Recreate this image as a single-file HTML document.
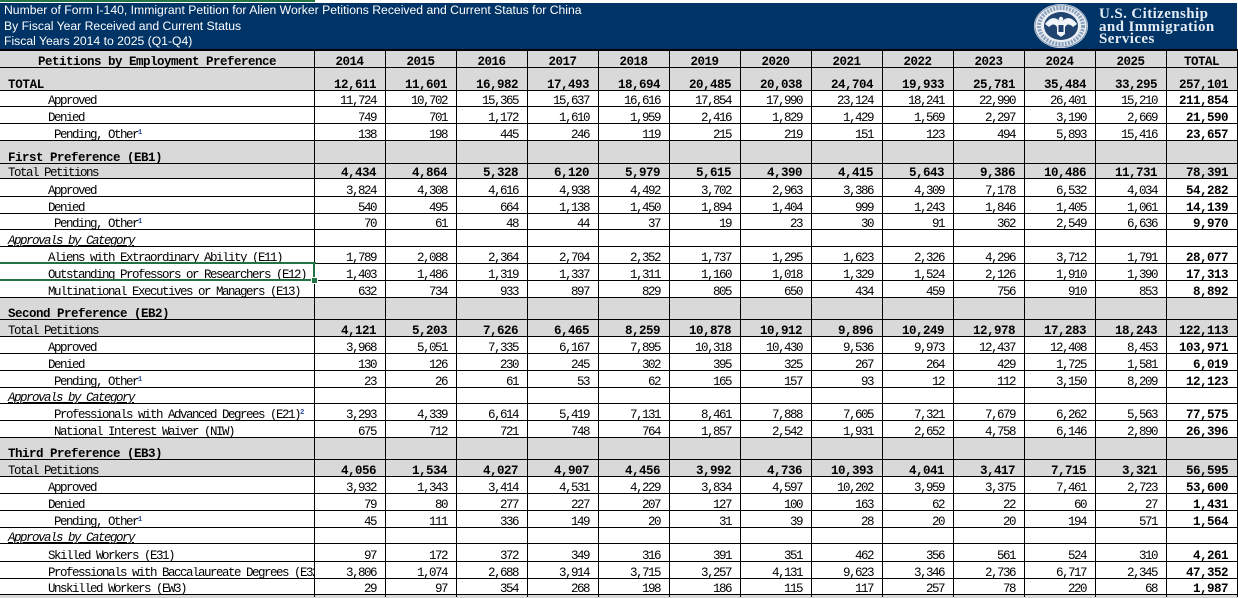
<!DOCTYPE html>
<html>
<head>
<meta charset="utf-8">
<style>
html,body{margin:0;padding:0}
body{width:1238px;height:597px;overflow:hidden;background:#fff;position:relative;font-family:"Liberation Mono",monospace;font-size:12.5px;color:#000}
.topg{position:absolute;left:0;top:0;width:315px;height:2px;background:#217346}
.nav{position:absolute;left:0;top:3px;width:1237px;height:47px;background:#003366}
.tl{position:absolute;left:4px;font-family:"Liberation Sans",sans-serif;font-size:12.2px;line-height:15.5px;color:#fff;white-space:nowrap}
.logo{position:absolute;left:1030px;top:3px}
.lt{position:absolute;left:1099px;font-family:"Liberation Serif",serif;font-weight:bold;font-size:15px;line-height:13px;color:#e3ebf3;letter-spacing:0.4px;white-space:nowrap}
.r{position:absolute;left:0;width:1238px;border-top:1px solid #000;box-sizing:border-box;display:flex;align-items:flex-end;line-height:12px;letter-spacing:-1.5px;white-space:nowrap}
.r > div{position:relative;top:1px}
.g{background:#d9d9d9}
.l{width:314px;flex:none;overflow:hidden;white-space:nowrap;box-sizing:border-box;padding-left:8px}
.c{width:71px;flex:none;text-align:right;padding-right:9px;box-sizing:border-box;white-space:nowrap}
.ctr{text-align:center;padding-right:0}
.b{font-weight:bold;letter-spacing:-0.5px}
.r.b .l{letter-spacing:-0.5px}
.i1{padding-left:48px}
.i2{padding-left:54px}
.it{font-style:italic;text-decoration:underline}
sup{font-size:7px;letter-spacing:0;color:#2348a0;vertical-align:4px;line-height:0;font-weight:bold}
.v{position:absolute;top:50px;height:547px;width:1px;background:#000}
.gr{position:absolute;background:#217346}
</style>
</head>
<body>
<div class="topg"></div>
<div class="nav"></div>
<div class="tl" style="top:3px">Number of Form I-140, Immigrant Petition for Alien Worker Petitions Received and Current Status for China</div>
<div class="tl" style="top:18.5px">By Fiscal Year Received and Current Status</div>
<div class="tl" style="top:34px">Fiscal Years 2014 to 2025 (Q1-Q4)</div>
<svg class="logo" width="64" height="46" viewBox="0 0 64 46">
<ellipse cx="31" cy="23" rx="27" ry="22" fill="#e9eef4"/>
<ellipse cx="31" cy="23" rx="22" ry="18" fill="none" stroke="#8a9fba" stroke-width="4" stroke-dasharray="2 1.2"/>
<ellipse cx="31" cy="23" rx="26" ry="21" fill="none" stroke="#7f97b5" stroke-width="1"/>
<ellipse cx="31" cy="23" rx="17" ry="14" fill="#20446f"/>
<path d="M15 21 Q22 11 30 18 L32 18 Q40 11 47 21 L43 24 Q38 19 35 24 L35 31 L31 34 L27 31 L27 24 Q24 19 19 24 Z" fill="#f2f5f9"/>
<rect x="28.5" y="22" width="5" height="7" fill="#20446f"/>
<circle cx="31" cy="16" r="2.2" fill="#f2f5f9"/>
</svg>
<div class="lt" style="top:8px">U.S. Citizenship</div>
<div class="lt" style="top:21px">and Immigration</div>
<div class="lt" style="top:33px">Services</div>

<div class="r g b" style="top:49px;height:18px;border-top-width:2px"><div class="l" style="padding-left:0;text-align:center">Petitions by Employment Preference</div><div class="c ctr">2014</div><div class="c ctr">2015</div><div class="c ctr">2016</div><div class="c ctr">2017</div><div class="c ctr">2018</div><div class="c ctr">2019</div><div class="c ctr">2020</div><div class="c ctr">2021</div><div class="c ctr">2022</div><div class="c ctr">2023</div><div class="c ctr">2024</div><div class="c ctr">2025</div><div class="c ctr">TOTAL</div></div>

<div class="r g b" style="top:67px;height:23px"><div class="l" style="letter-spacing:-0.3px">TOTAL</div><div class="c">12,611</div><div class="c">11,601</div><div class="c">16,982</div><div class="c">17,493</div><div class="c">18,694</div><div class="c">20,485</div><div class="c">20,038</div><div class="c">24,704</div><div class="c">19,933</div><div class="c">25,781</div><div class="c">35,484</div><div class="c">33,295</div><div class="c">257,101</div></div>

<div class="r" style="top:90px;height:16px"><div class="l i1">Approved</div><div class="c">11,724</div><div class="c">10,702</div><div class="c">15,365</div><div class="c">15,637</div><div class="c">16,616</div><div class="c">17,854</div><div class="c">17,990</div><div class="c">23,124</div><div class="c">18,241</div><div class="c">22,990</div><div class="c">26,401</div><div class="c">15,210</div><div class="c b">211,854</div></div>

<div class="r" style="top:106px;height:17px"><div class="l i1">Denied</div><div class="c">749</div><div class="c">701</div><div class="c">1,172</div><div class="c">1,610</div><div class="c">1,959</div><div class="c">2,416</div><div class="c">1,829</div><div class="c">1,429</div><div class="c">1,569</div><div class="c">2,297</div><div class="c">3,190</div><div class="c">2,669</div><div class="c b">21,590</div></div>

<div class="r" style="top:123px;height:17px"><div class="l i2">Pending, Other<sup>1</sup></div><div class="c">138</div><div class="c">198</div><div class="c">445</div><div class="c">246</div><div class="c">119</div><div class="c">215</div><div class="c">219</div><div class="c">151</div><div class="c">123</div><div class="c">494</div><div class="c">5,893</div><div class="c">15,416</div><div class="c b">23,657</div></div>

<div class="r g" style="top:140px;height:23px"><div class="l b">First Preference (EB1)</div></div>

<div class="r g b" style="top:163px;height:15px"><div class="l" style="font-weight:normal;letter-spacing:-1.5px">Total Petitions</div><div class="c">4,434</div><div class="c">4,864</div><div class="c">5,328</div><div class="c">6,120</div><div class="c">5,979</div><div class="c">5,615</div><div class="c">4,390</div><div class="c">4,415</div><div class="c">5,643</div><div class="c">9,386</div><div class="c">10,486</div><div class="c">11,731</div><div class="c">78,391</div></div>

<div class="r" style="top:178px;height:18px"><div class="l i1">Approved</div><div class="c">3,824</div><div class="c">4,308</div><div class="c">4,616</div><div class="c">4,938</div><div class="c">4,492</div><div class="c">3,702</div><div class="c">2,963</div><div class="c">3,386</div><div class="c">4,309</div><div class="c">7,178</div><div class="c">6,532</div><div class="c">4,034</div><div class="c b">54,282</div></div>

<div class="r" style="top:196px;height:17px"><div class="l i1">Denied</div><div class="c">540</div><div class="c">495</div><div class="c">664</div><div class="c">1,138</div><div class="c">1,450</div><div class="c">1,894</div><div class="c">1,404</div><div class="c">999</div><div class="c">1,243</div><div class="c">1,846</div><div class="c">1,405</div><div class="c">1,061</div><div class="c b">14,139</div></div>

<div class="r" style="top:213px;height:16px"><div class="l i2">Pending, Other<sup>1</sup></div><div class="c">70</div><div class="c">61</div><div class="c">48</div><div class="c">44</div><div class="c">37</div><div class="c">19</div><div class="c">23</div><div class="c">30</div><div class="c">91</div><div class="c">362</div><div class="c">2,549</div><div class="c">6,636</div><div class="c b">9,970</div></div>

<div class="r" style="top:229px;height:17px"><div class="l it">Approvals by Category</div></div>

<div class="r" style="top:246px;height:17px"><div class="l i1">Aliens with Extraordinary Ability (E11)</div><div class="c">1,789</div><div class="c">2,088</div><div class="c">2,364</div><div class="c">2,704</div><div class="c">2,352</div><div class="c">1,737</div><div class="c">1,295</div><div class="c">1,623</div><div class="c">2,326</div><div class="c">4,296</div><div class="c">3,712</div><div class="c">1,791</div><div class="c b">28,077</div></div>

<div class="r" style="top:263px;height:17px"><div class="l i1">Outstanding Professors or Researchers (E12)</div><div class="c">1,403</div><div class="c">1,486</div><div class="c">1,319</div><div class="c">1,337</div><div class="c">1,311</div><div class="c">1,160</div><div class="c">1,018</div><div class="c">1,329</div><div class="c">1,524</div><div class="c">2,126</div><div class="c">1,910</div><div class="c">1,390</div><div class="c b">17,313</div></div>

<div class="r" style="top:280px;height:17px"><div class="l i1">Multinational Executives or Managers (E13)</div><div class="c">632</div><div class="c">734</div><div class="c">933</div><div class="c">897</div><div class="c">829</div><div class="c">805</div><div class="c">650</div><div class="c">434</div><div class="c">459</div><div class="c">756</div><div class="c">910</div><div class="c">853</div><div class="c b">8,892</div></div>

<div class="r g" style="top:297px;height:22px"><div class="l b">Second Preference (EB2)</div></div>

<div class="r g b" style="top:319px;height:17px"><div class="l" style="font-weight:normal;letter-spacing:-1.5px">Total Petitions</div><div class="c">4,121</div><div class="c">5,203</div><div class="c">7,626</div><div class="c">6,465</div><div class="c">8,259</div><div class="c">10,878</div><div class="c">10,912</div><div class="c">9,896</div><div class="c">10,249</div><div class="c">12,978</div><div class="c">17,283</div><div class="c">18,243</div><div class="c">122,113</div></div>

<div class="r" style="top:336px;height:17px"><div class="l i1">Approved</div><div class="c">3,968</div><div class="c">5,051</div><div class="c">7,335</div><div class="c">6,167</div><div class="c">7,895</div><div class="c">10,318</div><div class="c">10,430</div><div class="c">9,536</div><div class="c">9,973</div><div class="c">12,437</div><div class="c">12,408</div><div class="c">8,453</div><div class="c b">103,971</div></div>

<div class="r" style="top:353px;height:17px"><div class="l i1">Denied</div><div class="c">130</div><div class="c">126</div><div class="c">230</div><div class="c">245</div><div class="c">302</div><div class="c">395</div><div class="c">325</div><div class="c">267</div><div class="c">264</div><div class="c">429</div><div class="c">1,725</div><div class="c">1,581</div><div class="c b">6,019</div></div>

<div class="r" style="top:370px;height:17px"><div class="l i2">Pending, Other<sup>1</sup></div><div class="c">23</div><div class="c">26</div><div class="c">61</div><div class="c">53</div><div class="c">62</div><div class="c">165</div><div class="c">157</div><div class="c">93</div><div class="c">12</div><div class="c">112</div><div class="c">3,150</div><div class="c">8,209</div><div class="c b">12,123</div></div>

<div class="r" style="top:387px;height:16px"><div class="l it">Approvals by Category</div></div>

<div class="r" style="top:403px;height:17px"><div class="l i2">Professionals with Advanced Degrees (E21)<sup>2</sup></div><div class="c">3,293</div><div class="c">4,339</div><div class="c">6,614</div><div class="c">5,419</div><div class="c">7,131</div><div class="c">8,461</div><div class="c">7,888</div><div class="c">7,605</div><div class="c">7,321</div><div class="c">7,679</div><div class="c">6,262</div><div class="c">5,563</div><div class="c b">77,575</div></div>

<div class="r" style="top:420px;height:17px"><div class="l i2">National Interest Waiver (NIW)</div><div class="c">675</div><div class="c">712</div><div class="c">721</div><div class="c">748</div><div class="c">764</div><div class="c">1,857</div><div class="c">2,542</div><div class="c">1,931</div><div class="c">2,652</div><div class="c">4,758</div><div class="c">6,146</div><div class="c">2,890</div><div class="c b">26,396</div></div>

<div class="r g" style="top:437px;height:22px"><div class="l b">Third Preference (EB3)</div></div>

<div class="r g b" style="top:459px;height:17px"><div class="l" style="font-weight:normal;letter-spacing:-1.5px">Total Petitions</div><div class="c">4,056</div><div class="c">1,534</div><div class="c">4,027</div><div class="c">4,907</div><div class="c">4,456</div><div class="c">3,992</div><div class="c">4,736</div><div class="c">10,393</div><div class="c">4,041</div><div class="c">3,417</div><div class="c">7,715</div><div class="c">3,321</div><div class="c">56,595</div></div>

<div class="r" style="top:476px;height:17px"><div class="l i1">Approved</div><div class="c">3,932</div><div class="c">1,343</div><div class="c">3,414</div><div class="c">4,531</div><div class="c">4,229</div><div class="c">3,834</div><div class="c">4,597</div><div class="c">10,202</div><div class="c">3,959</div><div class="c">3,375</div><div class="c">7,461</div><div class="c">2,723</div><div class="c b">53,600</div></div>

<div class="r" style="top:493px;height:17px"><div class="l i1">Denied</div><div class="c">79</div><div class="c">80</div><div class="c">277</div><div class="c">227</div><div class="c">207</div><div class="c">127</div><div class="c">100</div><div class="c">163</div><div class="c">62</div><div class="c">22</div><div class="c">60</div><div class="c">27</div><div class="c b">1,431</div></div>

<div class="r" style="top:510px;height:17px"><div class="l i2">Pending, Other<sup>1</sup></div><div class="c">45</div><div class="c">111</div><div class="c">336</div><div class="c">149</div><div class="c">20</div><div class="c">31</div><div class="c">39</div><div class="c">28</div><div class="c">20</div><div class="c">20</div><div class="c">194</div><div class="c">571</div><div class="c b">1,564</div></div>

<div class="r" style="top:527px;height:16px"><div class="l it">Approvals by Category</div></div>

<div class="r" style="top:543px;height:18px"><div class="l i1">Skilled Workers (E31)</div><div class="c">97</div><div class="c">172</div><div class="c">372</div><div class="c">349</div><div class="c">316</div><div class="c">391</div><div class="c">351</div><div class="c">462</div><div class="c">356</div><div class="c">561</div><div class="c">524</div><div class="c">310</div><div class="c b">4,261</div></div>

<div class="r" style="top:561px;height:17px"><div class="l i1">Professionals with Baccalaureate Degrees (E32)</div><div class="c">3,806</div><div class="c">1,074</div><div class="c">2,688</div><div class="c">3,914</div><div class="c">3,715</div><div class="c">3,257</div><div class="c">4,131</div><div class="c">9,623</div><div class="c">3,346</div><div class="c">2,736</div><div class="c">6,717</div><div class="c">2,345</div><div class="c b">47,352</div></div>

<div class="r" style="top:578px;height:16px"><div class="l i1">Unskilled Workers (EW3)</div><div class="c">29</div><div class="c">97</div><div class="c">354</div><div class="c">268</div><div class="c">198</div><div class="c">186</div><div class="c">115</div><div class="c">117</div><div class="c">257</div><div class="c">78</div><div class="c">220</div><div class="c">68</div><div class="c b">1,987</div></div>

<div class="r g" style="top:594px;height:4px"></div>

<div class="v" style="left:314px"></div>
<div class="v" style="left:385px"></div>
<div class="v" style="left:456px"></div>
<div class="v" style="left:527px"></div>
<div class="v" style="left:598px"></div>
<div class="v" style="left:669px"></div>
<div class="v" style="left:740px"></div>
<div class="v" style="left:811px"></div>
<div class="v" style="left:882px"></div>
<div class="v" style="left:953px"></div>
<div class="v" style="left:1024px"></div>
<div class="v" style="left:1095px"></div>
<div class="v" style="left:1166px"></div>
<div class="v" style="left:1237px"></div>

<div class="gr" style="left:0;top:262px;width:316px;height:2px"></div>
<div class="gr" style="left:0;top:279px;width:316px;height:2px"></div>
<div class="gr" style="left:313px;top:262px;width:2px;height:19px"></div>
<div class="gr" style="left:312px;top:278px;width:5px;height:5px;outline:1px solid #fff"></div>
</body>
</html>
